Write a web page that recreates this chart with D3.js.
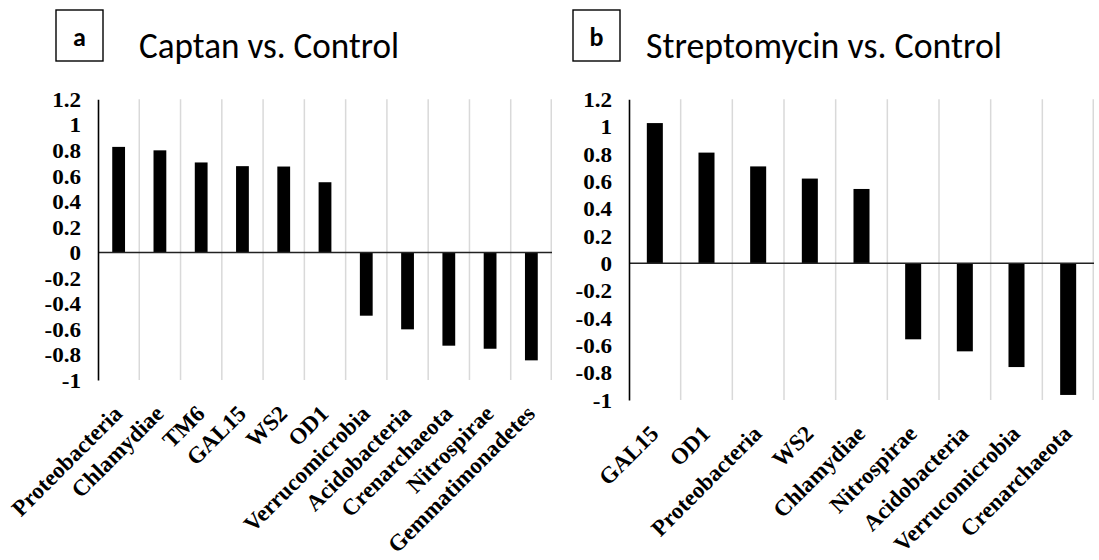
<!DOCTYPE html>
<html>
<head>
<meta charset="utf-8">
<script src="https://cdn.jsdelivr.net/npm/d3@7"></script>
<style>
  html, body { margin: 0; padding: 0; background: #fff; }
  svg { display: block; }
</style>
</head>
<body>
<script>
// ---- Data ----
const categoriesA = ["Proteobacteria", "Chlamydiae", "TM6", "GAL15", "WS2", "OD1",
  "Verrucomicrobia", "Acidobacteria", "Crenarchaeota", "Nitrospirae", "Gemmatimonadetes"];
const valuesA = [0.827, 0.80, 0.705, 0.676, 0.673, 0.55, -0.496, -0.603, -0.731, -0.755, -0.846];

const categoriesB = ["GAL15", "OD1", "Proteobacteria", "WS2", "Chlamydiae",
  "Nitrospirae", "Acidobacteria", "Verrucomicrobia", "Crenarchaeota"];
const valuesB = [1.026, 0.81, 0.709, 0.62, 0.544, -0.556, -0.644, -0.759, -0.963];

const yTicks = [1.2, 1, 0.8, 0.6, 0.4, 0.2, 0, -0.2, -0.4, -0.6, -0.8, -1];
const yDomain = [-1, 1.2];

const panelLetters = ["a", "b"];
const panelTitles = ["Captan vs. Control", "Streptomycin vs. Control"];

// ---- Layout ----
const W = 1099, H = 560;
const svg = d3.select("body").append("svg").attr("width", W).attr("height", H);

const layouts = [
  { x0: 98, x1: 552, yTop: 99.3, yBot: 380, box: [56, 10, 47, 51], titleX: 139, titleW: 260, labelSx: 1.0 },
  { x0: 629, x1: 1094, yTop: 99.3, yBot: 400, box: [573, 10, 47, 51], titleX: 646, titleW: 356, labelSx: 1.0 }
];
const panelData = [
  { cats: categoriesA, vals: valuesA },
  { cats: categoriesB, vals: valuesB }
];

const serif = "'Liberation Serif', 'Times New Roman', Times, serif";
const sans = "Carlito, Calibri, Lato, 'Open Sans', sans-serif";

panelData.forEach((pd, p) => {
  const L = layouts[p];
  const g = svg.append("g");

  const x = d3.scaleBand().domain(pd.cats).range([L.x0, L.x1]).paddingInner(0).paddingOuter(0);
  const y = d3.scaleLinear().domain(yDomain).range([L.yBot, L.yTop]);

  // vertical gridlines at category boundaries
  const gridX = pd.cats.slice(1).map(c => x(c)).concat([L.x1 - 0.75]);
  g.append("g").selectAll("line").data(gridX).join("line")
    .attr("x1", d => d).attr("x2", d => d)
    .attr("y1", y(yDomain[1])).attr("y2", y(yDomain[0]))
    .attr("stroke", "#d9d9d9").attr("stroke-width", 1.5);

  // bars
  const bw = x.bandwidth() * 0.31;
  g.append("g").selectAll("rect").data(pd.cats.map((c, i) => ({ c, v: pd.vals[i] }))).join("rect")
    .attr("x", d => x(d.c) + (x.bandwidth() - bw) / 2)
    .attr("width", bw)
    .attr("y", d => y(Math.max(0, d.v)))
    .attr("height", d => Math.abs(y(d.v) - y(0)))
    .attr("fill", "#000");

  // zero line
  g.append("line")
    .attr("x1", L.x0).attr("x2", L.x1)
    .attr("y1", y(0)).attr("y2", y(0))
    .attr("stroke", "#222").attr("stroke-width", 1.5);

  // y axis
  const sx = 1.1;
  const yAxis = g.append("g").attr("transform", `translate(${L.x0},0)`)
    .call(d3.axisLeft(y).tickValues(yTicks).tickSize(0).tickPadding(20)
      .tickFormat(d => String(d)));
  yAxis.attr("font-family", serif);
  yAxis.select(".domain").attr("stroke", "#000").attr("stroke-width", 1.6);
  yAxis.selectAll("text")
    .attr("font-family", serif).attr("font-size", 21).attr("font-weight", "bold")
    .attr("fill", "#000")
    .attr("x", -17 / sx).attr("dy", "0.34em")
    .attr("transform", `scale(${sx},1)`);

  // x axis labels (rotated)
  const xAxis = g.append("g").attr("transform", `translate(0,${L.yBot})`)
    .call(d3.axisBottom(x).tickSize(0).tickPadding(0));
  xAxis.attr("font-family", serif);
  xAxis.select(".domain").remove();
  xAxis.selectAll("text")
    .attr("font-family", serif).attr("font-size", 23).attr("font-weight", "bold")
    .attr("fill", "#000")
    .attr("y", 0).attr("dy", 0)
    .attr("text-anchor", "end")
    .attr("transform", `translate(5,35) scale(${L.labelSx},1) rotate(-45)`);

  // title box with panel letter
  const [bx, by, bwid, bh] = L.box;
  svg.append("rect").attr("x", bx).attr("y", by).attr("width", bwid).attr("height", bh)
    .attr("fill", "none").attr("stroke", "#000").attr("stroke-width", 1.4);
  svg.append("text").attr("x", bx + bwid / 2).attr("y", by + 36)
    .attr("text-anchor", "middle")
    .attr("font-family", sans).attr("font-size", 26).attr("font-weight", "bold")
    .text(panelLetters[p]);

  // title
  svg.append("text").attr("x", L.titleX).attr("y", 58)
    .attr("font-family", sans).attr("font-size", 36)
    .attr("textLength", L.titleW).attr("lengthAdjust", "spacingAndGlyphs")
    .text(panelTitles[p]);
});
</script>
</body>
</html>
